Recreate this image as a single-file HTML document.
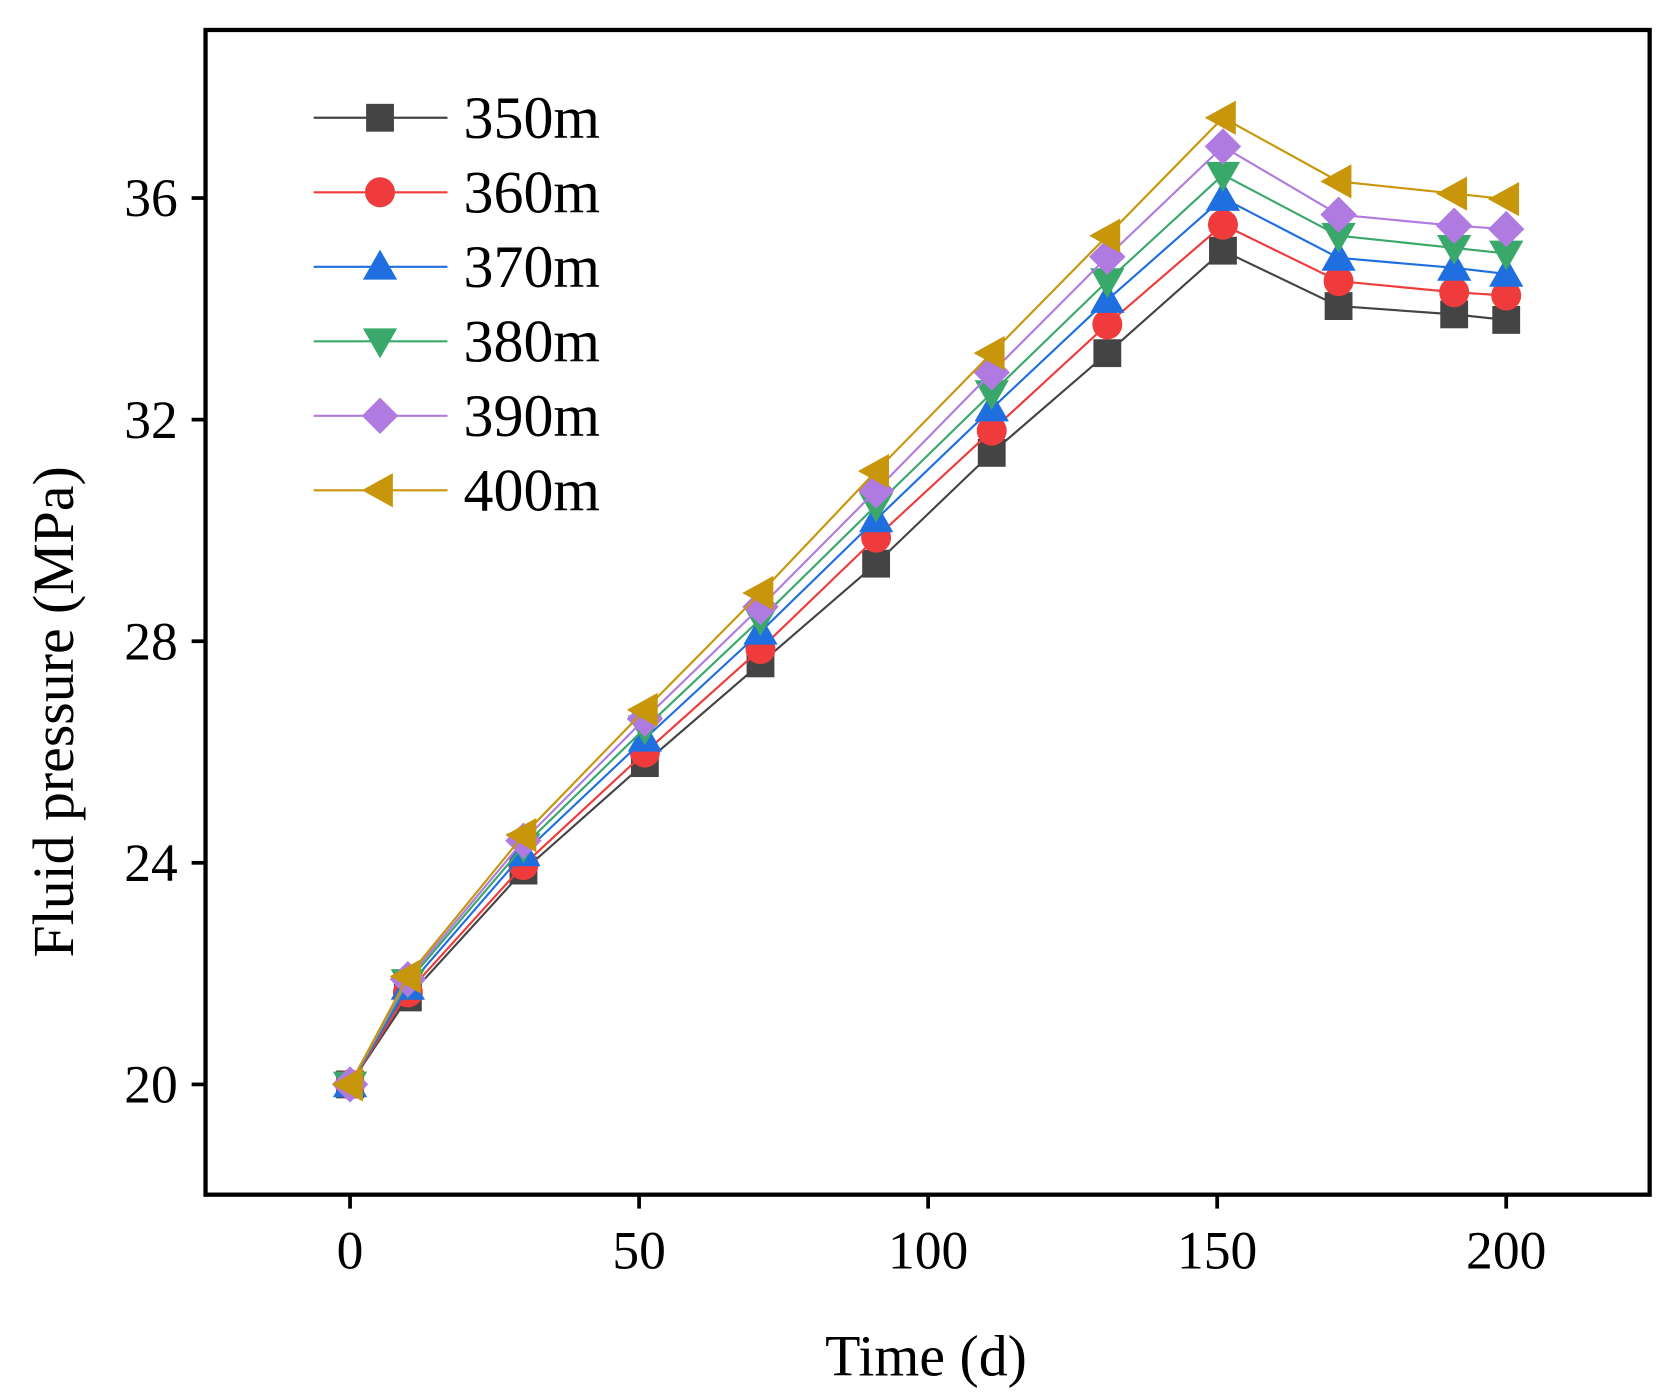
<!DOCTYPE html>
<html><head><meta charset="utf-8"><style>
html,body{margin:0;padding:0;background:#fff;}
svg{display:block;font-family:"Liberation Serif",serif;}
</style></head><body>
<svg id="chart" width="1670" height="1397" viewBox="0 0 1560 1305" preserveAspectRatio="none" xmlns="http://www.w3.org/2000/svg">
<rect x="0" y="0" width="1560" height="1305" fill="#fff"/>
<g id="marks"></g>
<rect x="192" y="28" width="1349" height="1088" fill="none" stroke="#000" stroke-width="4"/>
<g id="axes"></g>
<text x="865" y="1285" font-size="54" text-anchor="middle">Time (d)</text>
<text transform="translate(68,665) rotate(-90)" font-size="54" text-anchor="middle">Fluid pressure (MPa)</text>
<g id="legend"></g>
</svg>
<script>
const times = [0, 10, 30, 51, 71, 91, 111, 131, 151, 171, 191, 200];
const seriesNames = ["350m", "360m", "370m", "380m", "390m", "400m"];
const s350 = [20, 21.57, 23.86, 25.8, 27.6, 29.4, 31.4, 33.2, 35.05, 34.05, 33.9, 33.8];
const s360 = [20, 21.66, 23.96, 25.99, 27.86, 29.87, 31.8, 33.72, 35.52, 34.5, 34.3, 34.24];
const s370 = [20, 21.76, 24.17, 26.24, 28.17, 30.2, 32.2, 34.16, 36.0, 34.92, 34.74, 34.63];
const s380 = [20, 21.85, 24.3, 26.43, 28.4, 30.45, 32.48, 34.5, 36.42, 35.32, 35.1, 35.0];
const s390 = [20, 21.9, 24.4, 26.6, 28.62, 30.72, 32.85, 34.94, 36.93, 35.7, 35.5, 35.44];
const s400 = [20, 21.95, 24.5, 26.76, 28.87, 31.07, 33.2, 35.32, 37.45, 36.3, 36.08, 35.98];
const xTicks = [0, 50, 100, 150, 200];
const yTicks = [20, 24, 28, 32, 36];

const NS = "http://www.w3.org/2000/svg";
const xS = v => 327 + (v - 0) * (1407 - 327) / 200;
const yS = v => 1013 - (v - 20) * (1013 - 185) / 16;
const colors = ["#444444", "#ef3b3b", "#1f6fe0", "#3aa86a", "#b07be0", "#c8960a"];
const shapes = ["square", "circle", "up", "down", "diamond", "left"];
const allSeries = [s350, s360, s370, s380, s390, s400];

function el(tag, attrs, parent) {
  const e = document.createElementNS(NS, tag);
  for (const k in attrs) e.setAttribute(k, attrs[k]);
  parent.appendChild(e);
  return e;
}
function marker(shape, cx, cy, color, parent) {
  let m;
  if (shape === "square") m = el("rect", {x: cx - 13, y: cy - 13, width: 26, height: 26, fill: color}, parent);
  else if (shape === "circle") m = el("circle", {cx: cx, cy: cy, r: 14, fill: color}, parent);
  else {
    let p;
    if (shape === "up") p = [[cx, cy - 16], [cx + 16, cy + 12], [cx - 16, cy + 12]];
    else if (shape === "down") p = [[cx, cy + 16], [cx + 16, cy - 12], [cx - 16, cy - 12]];
    else if (shape === "diamond") p = [[cx, cy - 17], [cx + 17, cy], [cx, cy + 17], [cx - 17, cy]];
    else p = [[cx - 17, cy], [cx + 12, cy - 16], [cx + 12, cy + 16]];
    m = el("polygon", {points: p.map(q => q.join(",")).join(" "), fill: color}, parent);
  }
  return m;
}

const marks = document.getElementById("marks");
allSeries.forEach((vals, i) => {
  const g = el("g", {}, marks);
  
  
  const line = el("polyline", {points: vals.map((v, j) => xS(times[j]) + "," + yS(v)).join(" "), fill: "none", stroke: colors[i], "stroke-width": 2}, g);
  
  
  vals.forEach((v, j) => {
    const m = marker(shapes[i], xS(times[j]), yS(v), colors[i], g);
    
    
  });
});

const axes = document.getElementById("axes");
xTicks.forEach(t => {
  const tk = el("line", {x1: xS(t), x2: xS(t), y1: 1116, y2: 1129, stroke: "#000", "stroke-width": 3.5}, axes);
  
  
  const lb = el("text", {x: xS(t), y: 1185, "font-size": 50, "text-anchor": "middle"}, axes);
  lb.textContent = t;
  
  
});
yTicks.forEach(t => {
  const tk = el("line", {x1: 179, x2: 192, y1: yS(t), y2: yS(t), stroke: "#000", "stroke-width": 3.5}, axes);
  
  
  const lb = el("text", {x: 166, y: yS(t) + 17, "font-size": 50, "text-anchor": "end"}, axes);
  lb.textContent = t;
  
  
});

const legend = document.getElementById("legend");
seriesNames.forEach((n, i) => {
  const y = 110 + i * 69.6;
  const g = el("g", {}, legend);
  
  
  el("line", {x1: 293, x2: 418, y1: y, y2: y, stroke: colors[i], "stroke-width": 2}, g);
  marker(shapes[i], 355, y, colors[i], g);
  const t = el("text", {x: 433, y: y + 19, "font-size": 56}, g);
  t.textContent = n;
});
</script>
</body></html>
